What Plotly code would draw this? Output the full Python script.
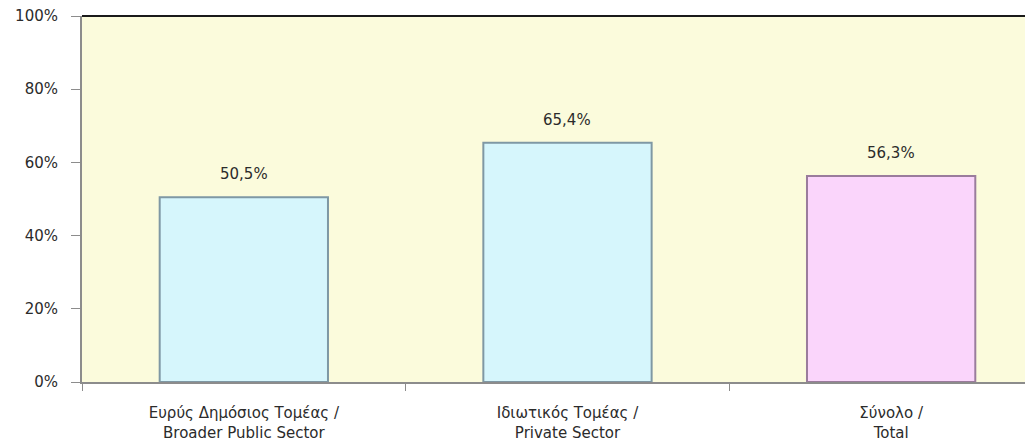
"""Ποσοστό ανά τομέα - bar chart."""

import plotly.graph_objects as go

# Dados
CATEGORIES = [
    "Ευρύς Δημόσιος Τομέας /<br>Broader Public Sector",
    "Ιδιωτικός Τομέας /<br>Private Sector",
    "Σύνολο /<br>Total",
]
VALUES = [50.5, 65.4, 56.3]
BAR_COLORS = ["#D6F6FC", "#D6F6FC", "#FAD5FB"]
EDGE_COLORS = ["#7F98A4", "#7F98A4", "#9A7C9C"]

Y_TICKS = [0, 20, 40, 60, 80, 100]
Y_TICK_LABELS = ["0%", "20%", "40%", "60%", "80%", "100%"]

FONT = "DejaVu Sans"
TEXT_COLOR = "#2b2b2b"

fig = go.Figure(
    go.Bar(
        x=CATEGORIES,
        y=VALUES,
        width=0.52,
        marker=dict(color=BAR_COLORS, line=dict(color=EDGE_COLORS, width=2)),
        hoverinfo="skip",
    )
)

# rotulos acima das barras
for cat, val in zip(CATEGORIES, VALUES):
    fig.add_annotation(
        x=cat,
        y=val,
        text=f"{val:.1f}%".replace(".", ","),
        showarrow=False,
        yanchor="bottom",
        yshift=12,
        font=dict(family=FONT, size=15, color=TEXT_COLOR),
    )

# linha superior da area do grafico
fig.add_shape(
    type="line", xref="paper", yref="paper",
    x0=0, x1=1, y0=1, y1=1,
    line=dict(color="#1a1a1a", width=2),
)

# a pagina tem margem de 8px no body, por isso l/t/b compensados
fig.update_layout(
    width=1033,
    height=448,
    margin=dict(l=74, r=0, t=8, b=74),
    paper_bgcolor="white",
    plot_bgcolor="#FBFBDC",
    font=dict(family=FONT, size=15, color=TEXT_COLOR),
    showlegend=False,
    xaxis=dict(
        type="category",
        range=[-0.5, 2.463],
        automargin=False,
        tickson="boundaries",
        ticks="outside",
        ticklen=7,
        tickcolor="#8c8c8c",
        showline=True,
        linecolor="#8c8c8c",
        linewidth=2,
        showgrid=False,
        ticklabelstandoff=16,
        ticklabeloverflow="allow",
        tickfont=dict(size=15),
    ),
    yaxis=dict(
        range=[0, 100],
        tickmode="array",
        tickvals=Y_TICKS,
        ticktext=Y_TICK_LABELS,
        automargin=False,
        ticks="outside",
        ticklen=9,
        tickcolor="#8c8c8c",
        showline=True,
        linecolor="#8c8c8c",
        linewidth=2,
        showgrid=False,
        zeroline=False,
        ticklabelstandoff=10,
        ticklabeloverflow="allow",
        tickfont=dict(size=15),
    ),
)

fig.write_html("out.html")
